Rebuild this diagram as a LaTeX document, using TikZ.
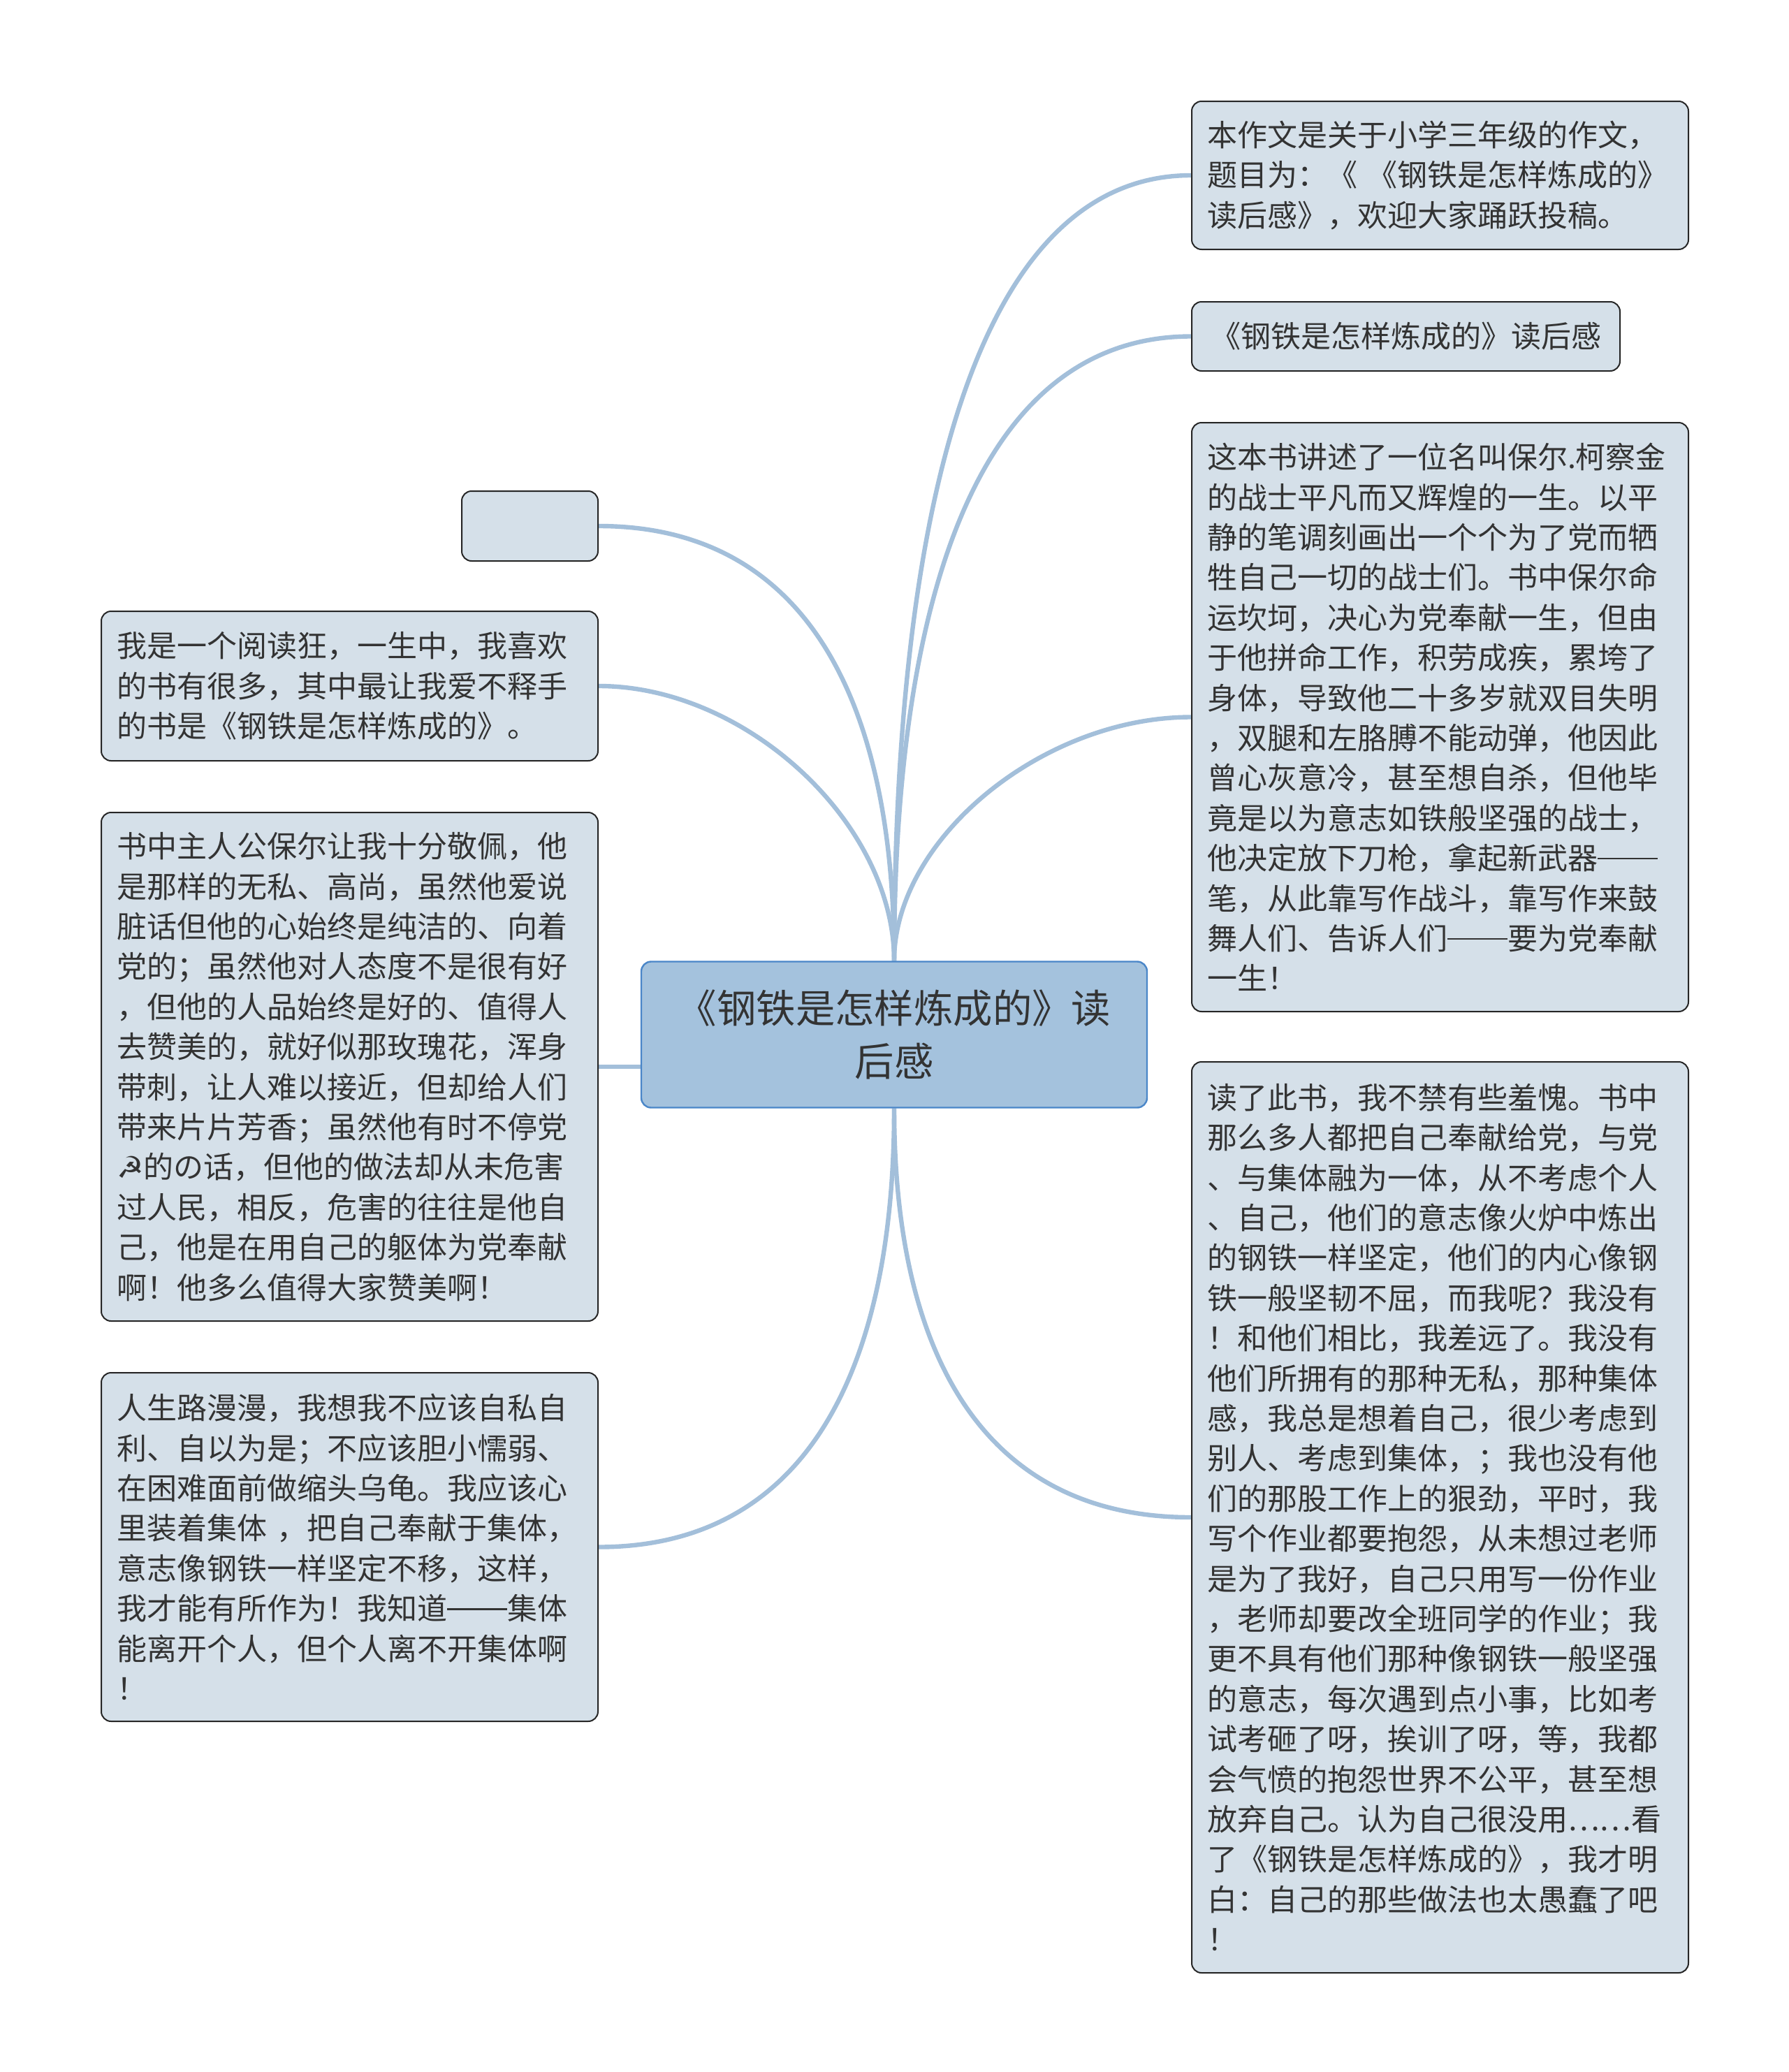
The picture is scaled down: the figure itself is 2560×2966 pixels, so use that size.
\documentclass[tikz,border=0pt]{standalone}
\usepackage{fontspec}
\setmainfont{Noto Sans CJK SC}
\newfontfamily\symfont{DejaVu Sans}
\usetikzlibrary{calc,backgrounds}

\definecolor{boxfill}{HTML}{D5E0E9}
\definecolor{rootfill}{HTML}{A4C2DD}
\definecolor{rootline}{HTML}{4A86C8}
\definecolor{linkblue}{HTML}{A3BFDA}
\definecolor{inkgray}{HTML}{333333}

\newcommand{\longdash}{\rule[0.33em]{2em}{0.06em}}

\tikzset{
  topic/.style={draw=black!85, line width=0.5pt, fill=boxfill, rounded corners=3.5pt,
    text=inkgray, anchor=north west, inner xsep=5.5pt, inner ysep=0pt,
    text width=166.75pt, align=left, font=\fontsize{10.75pt}{14.35pt}\selectfont},
  root/.style={draw=rootline, line width=0.6pt, fill=rootfill, rounded corners=3.5pt,
    text=inkgray, minimum width=181pt, minimum height=52.25pt, align=center,
    font=\fontsize{14.1pt}{18.9pt}\selectfont},
  link/.style={draw=linkblue, line width=1.6pt},
  branch/.style 2 args={to path={.. controls ($(\tikztostart)!#1!(\tikztostart|-\tikztotarget)$)
    and ($(\tikztostart|-\tikztotarget)!#2!(\tikztotarget)$) .. (\tikztotarget)}}
}

\begin{document}
\begin{tikzpicture}[x=0.25pt, y=-0.25pt]
  \useasboundingbox (0,0) rectangle (2560,2966);

  % central topic
  \node[root] (ctr) at (1280,1481) {《钢铁是怎样炼成的》读\\后感};

  % right side
  \node[topic, minimum height=53pt] (intro) at (1705,144)
    {本作文是关于小学三年级的作文，\\题目为：《 《钢铁是怎样炼成的》\\读后感》，欢迎大家踊跃投稿。};
  \node[topic, text width=142.25pt, align=center, minimum height=24.75pt] (title) at (1705,431)
    {《钢铁是怎样炼成的》读后感};
  \node[topic, minimum height=210.75pt] (story) at (1705,604)
    {这本书讲述了一位名叫保尔.柯察金\\的战士平凡而又辉煌的一生。以平\\静的笔调刻画出一个个为了党而牺\\牲自己一切的战士们。书中保尔命\\运坎坷，决心为党奉献一生，但由\\于他拼命工作，积劳成疾，累垮了\\身体，导致他二十多岁就双目失明\\，双腿和左胳膊不能动弹，他因此\\曾心灰意冷，甚至想自杀，但他毕\\竟是以为意志如铁般坚强的战士，\\他决定放下刀枪，拿起新武器\longdash\\笔，从此靠写作战斗，靠写作来鼓\\舞人们、告诉人们\longdash 要为党奉献\\一生！};
  \node[topic, minimum height=326pt] (shame) at (1705,1519)
    {读了此书，我不禁有些羞愧。书中\\那么多人都把自己奉献给党，与党\\、与集体融为一体，从不考虑个人\\、自己，他们的意志像火炉中炼出\\的钢铁一样坚定，他们的内心像钢\\铁一般坚韧不屈，而我呢？我没有\\！和他们相比，我差远了。我没有\\他们所拥有的那种无私，那种集体\\感，我总是想着自己，很少考虑到\\别人、考虑到集体，；我也没有他\\们的那股工作上的狠劲，平时，我\\写个作业都要抱怨，从未想过老师\\是为了我好，自己只用写一份作业\\，老师却要改全班同学的作业；我\\更不具有他们那种像钢铁一般坚强\\的意志，每次遇到点小事，比如考\\试考砸了呀，挨训了呀，等，我都\\会气愤的抱怨世界不公平，甚至想\\放弃自己。认为自己很没用……看\\了《钢铁是怎样炼成的》，我才明\\白：自己的那些做法也太愚蠢了吧\\！};

  % left side
  \node[topic, text width=37.75pt, minimum height=25pt] (blank) at (660,702) {};
  \node[topic, minimum height=53.5pt] (reader) at (144,874)
    {我是一个阅读狂，一生中，我喜欢\\的书有很多，其中最让我爱不释手\\的书是《钢铁是怎样炼成的》。};
  \node[topic, minimum height=182pt] (hero) at (144,1162)
    {书中主人公保尔让我十分敬佩，他\\是那样的无私、高尚，虽然他爱说\\脏话但他的心始终是纯洁的、向着\\党的；虽然他对人态度不是很有好\\，但他的人品始终是好的、值得人\\去赞美的，就好似那玫瑰花，浑身\\带刺，让人难以接近，但却给人们\\带来片片芳香；虽然他有时不停党\\{\symfont ☭}的の话，但他的做法却从未危害\\过人民，相反，危害的往往是他自\\己，他是在用自己的躯体为党奉献\\啊！他多么值得大家赞美啊！};
  \node[topic, minimum height=124.75pt] (life) at (144,1964)
    {人生路漫漫，我想我不应该自私自\\利、自以为是；不应该胆小懦弱、\\在困难面前做缩头乌龟。我应该心\\里装着集体 ，把自己奉献于集体，\\意志像钢铁一样坚定不移，这样，\\我才能有所作为！我知道\longdash 集体\\能离开个人，但个人离不开集体啊\\！};

  % connectors
  \begin{scope}[on background layer]
    \draw[link] (ctr.north) to[branch={0.6}{0.3}] (intro.west);
    \draw[link] (ctr.north) to[branch={0.6}{0.3}] (title.west);
    \draw[link] (ctr.north) to[branch={0.5}{0.5}] (story.west);
    \draw[link] (ctr.south) to[branch={0.6}{0.3}] (shame.west);
    \draw[link] (ctr.north) to[branch={0.6}{0.3}] (blank.east);
    \draw[link] (ctr.north) to[branch={0.5}{0.5}] (reader.east);
    \draw[link] (hero.east) -- (hero.east -| ctr.west);
    \draw[link] (ctr.south) to[branch={0.6}{0.3}] (life.east);
  \end{scope}
\end{tikzpicture}
\end{document}
